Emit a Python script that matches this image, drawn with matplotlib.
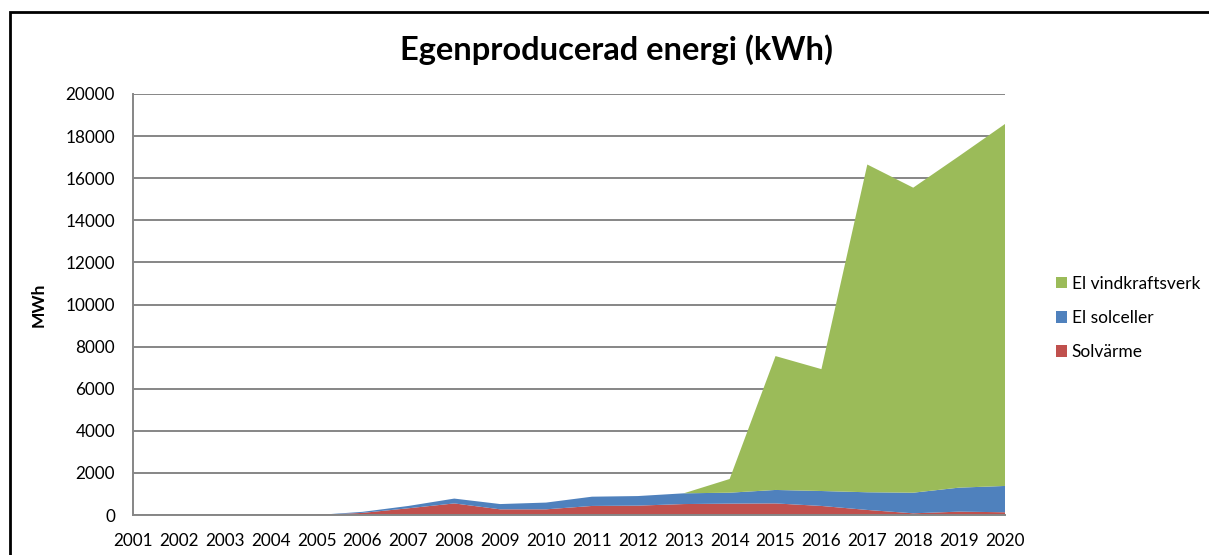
import numpy as np
import matplotlib.pyplot as plt
from matplotlib.patches import Rectangle

years = [str(y) for y in range(2001, 2021)]
solvarme = [0, 0, 0, 0, 0, 100, 320, 550, 270, 270, 430, 445, 520, 540, 550, 430, 240, 80, 160, 130]
solceller = [0, 0, 0, 0, 0, 50, 110, 230, 250, 320, 440, 455, 510, 520, 640, 710, 840, 980, 1140, 1250]
vindkraft = [0, 0, 0, 0, 0, 0, 0, 0, 0, 0, 0, 0, 0, 650, 6360, 5790, 15570, 14490, 15750, 17195]

labels = ["Solvärme", "El solceller", "El vindkraftsverk"]
colors = ["#c0504d", "#4f81bd", "#9bbb59"]

plt.rcParams["font.family"] = ["Lato", "DejaVu Sans"]

fig = plt.figure(figsize=(12.09, 5.55), dpi=100)
ax = fig.add_axes([133 / 1209, 1 - 515 / 555, (1005 - 133) / 1209, (515 - 94) / 555])

x = np.arange(len(years))
ax.stackplot(x, solvarme, solceller, vindkraft, colors=colors, labels=labels, linewidth=0)

ax.set_xlim(0, len(years) - 1)
ax.set_ylim(0, 20000)
ax.set_yticks(range(0, 20001, 2000))
ax.set_xticks(x)
ax.set_xticklabels(years)
ax.tick_params(axis="x", length=0, labelsize=12.3, pad=13)
ax.tick_params(axis="y", length=0, labelsize=12.3, pad=13)
ax.yaxis.grid(True, color="#868686", linewidth=1.4)
ax.set_axisbelow(True)
for s in ["top", "right"]:
    ax.spines[s].set_visible(False)
for s in ["left", "bottom"]:
    ax.spines[s].set_color("#868686")
    ax.spines[s].set_linewidth(1.4)

ax.set_ylabel("MWh", fontsize=12.5, fontweight="bold")
ax.yaxis.set_label_coords((47 - 133) / 872, 0.5)
fig.text(616 / 1209, 1 - 50 / 555, "Egenproducerad energi (kWh)", ha="center", va="center",
         fontsize=23.5, fontweight="bold")

handles, labs = ax.get_legend_handles_labels()
fig.legend(handles[::-1], labs[::-1], loc="center left", bbox_to_anchor=(1056 / 1209, 1 - 318 / 555),
           frameon=False, fontsize=12.5, handlelength=0.65, handleheight=0.65, handletextpad=0.25,
           labelspacing=1.05, borderaxespad=0, borderpad=0)

# frame of the surrounding document box
fig.patches.append(Rectangle((10 / 1209, -0.1), 1.2, 1 - 12 / 555 + 0.1, transform=fig.transFigure,
                             fill=False, edgecolor="black", linewidth=2))

fig.savefig("out.png", dpi=100)
